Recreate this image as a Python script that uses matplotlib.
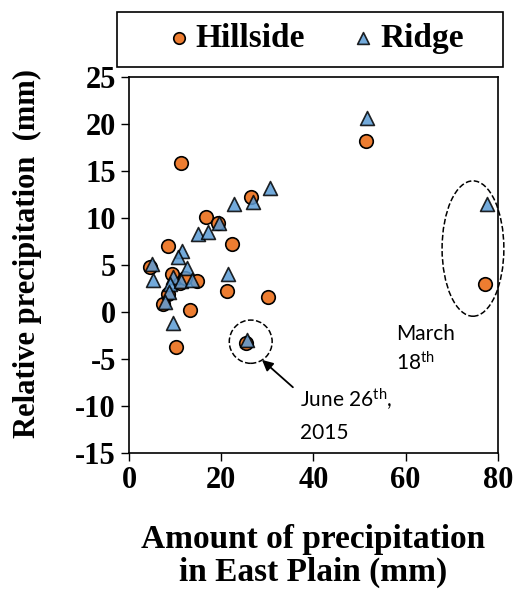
import matplotlib
matplotlib.use("Agg")
import matplotlib.pyplot as plt
from matplotlib.patches import Ellipse, Rectangle

plt.rcParams['axes.unicode_minus'] = False
plt.rcParams['mathtext.fontset'] = 'custom'
plt.rcParams['mathtext.rm'] = 'Lato'
plt.rcParams['mathtext.it'] = 'Lato'

# Hillside (circles)
hill_x = [11.2, 26.5, 16.8, 19.4, 8.4, 22.3, 4.6, 9.3, 14.8, 11.0, 12.1,
          21.2, 30.2, 8.5, 7.3, 13.2, 10.2, 25.4, 51.3, 77.3]
hill_y = [15.9, 12.2, 10.1, 9.5, 7.0, 7.2, 4.8, 4.0, 3.3, 3.1, 3.6,
          2.2, 1.6, 1.9, 0.9, 0.2, -3.7, -3.3, 18.2, 2.95]

# Ridge (triangles)
ridge_x = [30.6, 22.8, 26.8, 19.5, 15.0, 17.2, 11.6, 10.6, 4.9, 5.3, 12.5,
           9.6, 8.9, 11.2, 13.6, 8.7, 7.8, 21.5, 9.5, 25.7, 51.6, 77.6]
ridge_y = [13.2, 11.5, 11.7, 9.5, 8.3, 8.5, 6.5, 5.9, 5.1, 3.4, 4.7,
           3.7, 3.0, 3.3, 3.4, 2.1, 1.1, 4.0, -1.2, -3.0, 20.6, 11.5]

x_ticks = [0, 20, 40, 60, 80]
y_ticks = [-15, -10, -5, 0, 5, 10, 15, 20, 25]

serif = 'Liberation Serif'
note_font = 'Lato'

fig = plt.figure(figsize=(5.17, 5.90), dpi=100)
ax = fig.add_axes([0.2495, 0.2322, 0.7135, 0.6373])

ax.scatter(hill_x, hill_y, s=95, marker='o', color='#ED7D31',
           edgecolors='black', linewidths=1.2, zorder=3, label='Hillside')
ax.scatter(ridge_x, ridge_y, s=100, marker='^', color='#5B9BD5', alpha=0.85,
           edgecolors='black', linewidths=1.2, zorder=4, label='Ridge')

ax.set_xlim(0, 80)
ax.set_ylim(-15, 25)
ax.set_xticks(x_ticks)
ax.set_yticks(y_ticks)
ax.tick_params(direction='out', length=6, width=1, labelsize=22)
for lab in ax.get_xticklabels() + ax.get_yticklabels():
    lab.set_fontfamily(serif)
    lab.set_fontweight('bold')
for sp in ax.spines.values():
    sp.set_linewidth(1.2)

ax.set_xlabel('Amount of precipitation\nin East Plain (mm)', fontsize=24,
              fontfamily=serif, fontweight='bold', linespacing=1.05)
ax.xaxis.set_label_coords(0.5, -0.19, transform=ax.transAxes)
ax.xaxis.label.set_va('top')
ax.set_ylabel('Relative precipitation  (mm)', fontsize=22,
              fontfamily=serif, fontweight='bold')
ax.yaxis.set_label_coords(-0.235, 0.53)

# dashed circles
ax.add_patch(Ellipse((74.6, 6.75), 13.4, 14.4, fill=False, ls='--',
                     lw=1.1, color='black', clip_on=False, zorder=2))
ax.add_patch(Ellipse((26.4, -3.16), 9.3, 4.6, fill=False, ls='--',
                     lw=1.1, color='black', clip_on=False, zorder=2))

# annotations
ax.annotate('', xy=(28.4, -4.9), xytext=(36.0, -8.2),
            arrowprops=dict(arrowstyle='-|>', color='black', lw=1.3,
                            mutation_scale=16))
ax.text(37.0, -9.3, 'June 26$^{th}$,', fontsize=15, fontfamily=note_font,
        va='center', ha='left')
ax.text(37.0, -12.9, '2015', fontsize=15, fontfamily=note_font,
        va='center', ha='left')
ax.text(57.9, -2.3, 'March', fontsize=15, fontfamily=note_font,
        va='center', ha='left')
ax.text(57.9, -5.4, '18$^{th}$', fontsize=15, fontfamily=note_font,
        va='center', ha='left')

# legend box and entries
fig.patches.append(Rectangle((0.226, 0.886), 0.747, 0.094, transform=fig.transFigure,
                             fill=False, edgecolor='black', linewidth=1.2))
leg = fig.legend(loc='center', bbox_to_anchor=(0.607, 0.935), ncol=2,
                 frameon=False, prop={'family': serif, 'weight': 'bold', 'size': 24},
                 markerscale=0.85, handletextpad=0.05, borderaxespad=0,
                 columnspacing=1.3, handlelength=0.9)

fig.savefig('out.png', dpi=100)
